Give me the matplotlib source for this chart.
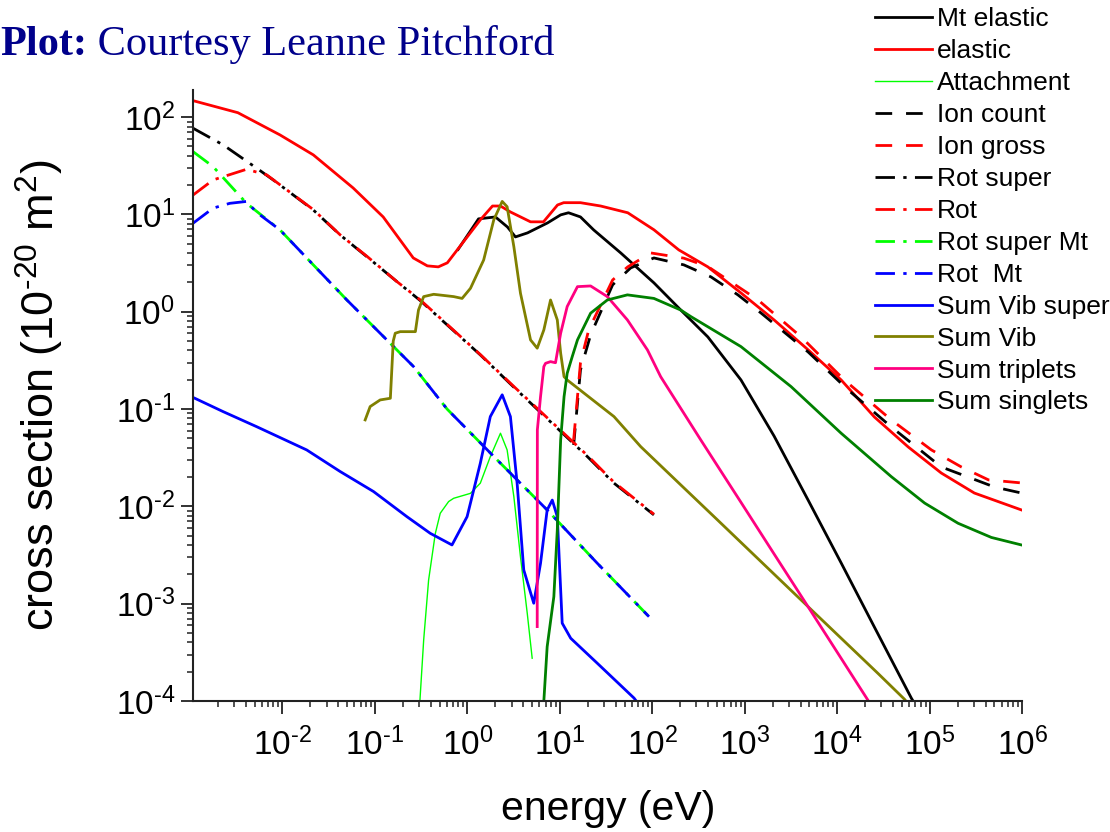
import numpy as np
import matplotlib
matplotlib.use("Agg")
import matplotlib.pyplot as plt
from matplotlib.ticker import LogLocator, NullFormatter, FuncFormatter

plt.rcParams['font.family'] = ['Liberation Sans', 'DejaVu Sans']
plt.rcParams['mathtext.fontset'] = 'custom'
plt.rcParams['mathtext.rm'] = 'Liberation Sans'
plt.rcParams['mathtext.it'] = 'Liberation Sans'
plt.rcParams['mathtext.default'] = 'regular'

# datos (energia en eV, seccion en 1e-20 m2)
e_mt_el = [0.794, 1.32, 2.01, 2.71, 3.31, 4.47, 7.36, 10.2, 12.4, 16.7, 23.2, 45.5, 104, 203, 398,
           908, 2070, 4830, 1.1e4, 2.51e4, 6.31e4, 7.08e4]
s_mt_el = [4.37, 9.0, 9.42, 7.43, 5.87, 6.46, 8.18, 9.89, 10.4, 9.42, 6.93, 4.02, 1.98, 1.04, 0.551,
           0.199, 0.0528, 0.0116, 2.62e-3, 5.77e-4, 1.07e-4, 8.9e-5]

e_el = [1.07e-3, 3.3e-3, 9.42e-3, 0.0216, 0.0582, 0.123, 0.26, 0.369, 0.485, 0.607, 1.38, 1.87, 2.28,
        2.92, 4.82, 6.65, 9.44, 11.0, 16.7, 27.6, 54.2, 104, 193, 398, 908, 2070, 4830, 1.1e4, 2.51e4,
        5.85e4, 1.33e5, 3.03e5, 9.8e5]
s_el = [148, 111, 65.6, 40.9, 18.7, 9.42, 3.57, 2.96, 2.89, 3.18, 8.79, 12.2, 12.2,
        10.6, 8.39, 8.39, 12.5, 13.2, 13.2, 12.2, 10.4, 6.95, 4.32, 2.89, 1.56, 0.824, 0.406, 0.199, 0.083,
        0.0407, 0.022, 0.0137, 0.00918]

e_att = [0.302, 0.337, 0.381, 0.45, 0.509, 0.627, 0.711, 1.08, 1.38, 1.77, 2.28, 2.69, 3.18, 3.75,
         4.44, 5.02]
s_att = [7.9e-5, 4.24e-4, 1.75e-3, 5.25e-3, 8.49e-3, 0.0112, 0.0121, 0.0136, 0.0173, 0.0324, 0.0564,
         0.038, 0.0126, 3.04e-3, 7.96e-4, 2.75e-4]

e_ion_c = [14.1, 16.7, 21.5, 37.2, 58.3, 104, 219, 430, 841, 1490, 2650, 4830, 1.31e4, 3.83e4,
           1.33e5, 5.0e5, 9.8e5]
s_ion_c = [0.0427, 0.252, 0.578, 1.89, 2.82, 3.57, 3.03, 2.28, 1.49, 0.973, 0.619, 0.386, 0.157,
           0.0655, 0.0254, 0.0158, 0.0137]

e_ion_g = [14.1, 16.7, 20.5, 37.2, 54.2, 96.2, 219, 398, 1390, 4060, 1.19e4, 3.83e4, 1.04e5,
           2.19e5, 4.31e5, 9.8e5]
s_ion_g = [0.0481, 0.298, 0.65, 2.12, 2.89, 4.02, 3.55, 2.91, 1.32, 0.551, 0.199, 0.0773, 0.038,
           0.0254, 0.0187, 0.0174]

e_rot_s = [1.08e-3, 2.29e-3, 5.26e-3, 7.96e-3, 0.0216, 0.0421, 0.0818, 0.173, 0.31, 1.38, 3.15, 20,
           38.2, 104]
s_rot_s = [76.9, 51.8, 29.9, 22.6, 11.1, 6.15, 3.68, 2.04, 1.30, 0.36, 0.169, 0.0322, 0.0174, 8.17e-3]

e_rot = [1.08e-3, 1.78e-3, 4.1e-3, 6.76e-3, 0.0216, 0.0421, 0.0818, 0.173, 0.31, 1.38, 3.15, 20,
         38.2, 104]
s_rot = [15.8, 22.6, 29.1, 25.5, 11.2, 6.17, 3.72, 2.04, 1.32, 0.363, 0.172, 0.0331, 0.0178, 8.3e-3]

e_rot_smt = [1.08e-3, 1.78e-3, 4.1e-3, 9.42e-3, 0.0216, 0.0498, 0.114, 0.262, 0.603, 2.1, 7.29, 25.4, 92]
s_rot_smt = [44.2, 31.0, 13.0, 6.93, 3.03, 1.32, 0.601, 0.273, 0.10, 0.03, 9.18e-3, 2.6e-3, 7.35e-4]

e_rot_mt = [1.08e-3, 1.78e-3, 2.7e-3, 4.1e-3, 5.26e-3, 9.42e-3, 0.0216, 0.0498, 0.114, 0.262, 0.603,
            2.1, 7.29, 25.4, 92]
s_rot_mt = [8.11, 11.6, 13.0, 13.6, 10.5, 6.93, 3.03, 1.32, 0.601, 0.273, 0.10, 0.03, 9.18e-3,
            2.6e-3, 7.35e-4]

e_vib_s = [1.13e-3, 2.29e-3, 5.26e-3, 0.0183, 0.0421, 0.0966, 0.222, 0.397, 0.682, 0.993, 1.38, 1.77,
           2.38, 2.92, 3.45, 4.07, 5.22, 6.18, 7.29, 8.28, 9.38, 10.6, 13.1, 25.4, 63.4, 70.8]
s_vib_s = [0.129, 0.094, 0.0659, 0.038, 0.0228, 0.0142, 7.83e-3, 5.28e-3, 4.01e-3, 7.83e-3, 0.0277,
           0.0836, 0.14, 0.0836, 0.0173, 2.22e-3, 1.01e-3, 2.6e-3, 9.18e-3, 0.0116, 7.83e-3, 6.3e-4,
           4.41e-4, 2.44e-4, 1.07e-4, 9.3e-5]

e_vib = [0.0785, 0.0889, 0.114, 0.147, 0.158, 0.166, 0.188, 0.274, 0.296, 0.337, 0.432, 0.711, 0.877,
         1.08, 1.5, 1.93, 2.38, 2.69, 3.18, 3.75, 4.82, 5.69, 6.71, 7.93, 9.38, 10.2, 11.1, 12.0, 38.5,
         74.8, 203, 507, 1260, 4060, 1.1e4, 2.75e4, 5.33e4, 5.75e4]
s_vib = [0.0773, 0.106, 0.124, 0.129, 0.50, 0.601, 0.624, 0.624, 1.04, 1.43, 1.51, 1.43, 1.37,
         1.74, 3.4, 8.79, 13.6, 12.0, 4.67, 1.55, 0.513, 0.422, 0.65, 1.32, 0.824, 0.375, 0.215, 0.199,
         0.0836, 0.0411, 0.0166, 7.24e-3, 3.16e-3, 1.09e-3, 4.41e-4, 1.92e-4, 1.04e-4, 9.5e-5]

e_trip = [5.69, 5.71, 6.18, 6.71, 7.0, 7.93, 8.97, 10.2, 12.0, 15.5, 21.5, 32.6, 53.7, 88.5, 123, 334,
          908, 2080, 4790, 1.1e4, 2.14e4, 2.29e4]
s_trip = [5.81e-4, 0.061, 0.134, 0.273, 0.295, 0.307, 0.299, 0.601, 1.13, 1.81, 1.84, 1.43, 0.824,
          0.405, 0.215, 0.0481, 0.011, 3.22e-3, 9.4e-4, 2.74e-4, 1.02e-4, 9.1e-5]

e_sing = [6.61, 7.29, 8.61, 9.38, 10.2, 11.1, 12.0, 13.6, 15.5, 21.5, 32.6, 53.7, 104, 203, 261, 908,
          3160, 1.1e4, 3.83e4, 8.79e4, 2.02e5, 4.63e5, 9.8e5]
s_sing = [7.9e-5, 3.61e-4, 1.18e-3, 5.71e-3, 0.0481, 0.134, 0.233, 0.345, 0.513, 0.966, 1.32, 1.49,
          1.37, 1.04, 0.891, 0.438, 0.17, 0.0564, 0.0202, 0.0108, 6.7e-3, 4.79e-3, 4.01e-3]

dd = (0, (7, 3, 1.2, 3))   # guion-punto
da = (0, (6, 5))           # guiones

fig = plt.figure(figsize=(11.1, 8.32), dpi=100)
ax = fig.add_axes([0.174, 0.1575, 0.747, 0.7345])

lw = 2.0
ax.plot(e_mt_el, s_mt_el, color='black', lw=lw, label='Mt elastic')
ax.plot(e_el, s_el, color='#FF0000', lw=lw, label='elastic')
ax.plot(e_att, s_att, color='#00FF00', lw=1.0, label='Attachment')
ax.plot(e_ion_c, s_ion_c, color='black', lw=lw, ls=da, label='Ion count')
ax.plot(e_ion_g, s_ion_g, color='#FF0000', lw=lw, ls=da, label='Ion gross')
ax.plot(e_rot_s, s_rot_s, color='black', lw=lw, ls=dd, label='Rot super')
ax.plot(e_rot, s_rot, color='#FF0000', lw=lw, ls=dd, label='Rot')
ax.plot(e_rot_smt, s_rot_smt, color='#00FF00', lw=lw, ls=dd, label='Rot super Mt')
ax.plot(e_rot_mt, s_rot_mt, color='#0000FF', lw=lw, ls=dd, label='Rot  Mt')
ax.plot(e_vib_s, s_vib_s, color='#0000FF', lw=lw, label='Sum Vib super')
ax.plot(e_vib, s_vib, color='#808000', lw=lw, label='Sum Vib')
ax.plot(e_trip, s_trip, color='#FF0080', lw=lw, label='Sum triplets')
ax.plot(e_sing, s_sing, color='#008000', lw=lw, label='Sum singlets')

ax.set_xscale('log')
ax.set_yscale('log')
ax.set_xlim(10**-2.965, 1e6)
ax.set_ylim(1e-4, 10**2.28)


def pot10(v, pos):
    n = int(round(np.log10(v)))
    return '$10^{\\text{%d}}$' % n


ax.xaxis.set_major_locator(LogLocator(base=10, numticks=20))
ax.yaxis.set_major_locator(LogLocator(base=10, numticks=20))
ax.xaxis.set_major_formatter(FuncFormatter(pot10))
ax.yaxis.set_major_formatter(FuncFormatter(pot10))
ax.xaxis.set_minor_locator(LogLocator(base=10, subs=np.arange(2, 10), numticks=100))
ax.yaxis.set_minor_locator(LogLocator(base=10, subs=np.arange(2, 10), numticks=100))
ax.xaxis.set_minor_formatter(NullFormatter())
ax.yaxis.set_minor_formatter(NullFormatter())

for s in ['top', 'right']:
    ax.spines[s].set_visible(False)
for s in ['left', 'bottom']:
    ax.spines[s].set_linewidth(1.5)
    ax.spines[s].set_color('#222222')

ax.tick_params(which='major', direction='out', length=9, width=1.3, labelsize=24, colors='#222222',
               labelcolor='black')
ax.tick_params(which='minor', direction='out', length=4.5, width=1.1, colors='#222222')
ax.tick_params(axis='x', which='major', pad=10)
ax.tick_params(axis='y', which='major', pad=4)

ax.set_xlabel('energy (eV)', fontsize=29.5, labelpad=20)
ax.set_ylabel('cross section (10$^{\\text{-20}}$ m$^{2}$)', fontsize=32.5, labelpad=36)

fig.legend(loc='upper left', bbox_to_anchor=(0.788, 0.991), frameon=False, fontsize=19,
           handlelength=2.16, handletextpad=0.2, labelspacing=0.3, borderpad=0, borderaxespad=0)

# titulo en azul
azul = '#00008B'
t1 = fig.text(0.0, 1 - 55 / 832, 'Plot:', fontsize=30.5, fontweight='bold', color=azul,
              family='Liberation Serif')
r = fig.canvas.get_renderer()
bb = t1.get_window_extent(renderer=r)
fig.text(bb.x1 / fig.bbox.width, 1 - 55 / 832, ' Courtesy Leanne Pitchford', fontsize=30.5,
         color=azul, family='Liberation Serif')

fig.savefig('out.png', dpi=100)
